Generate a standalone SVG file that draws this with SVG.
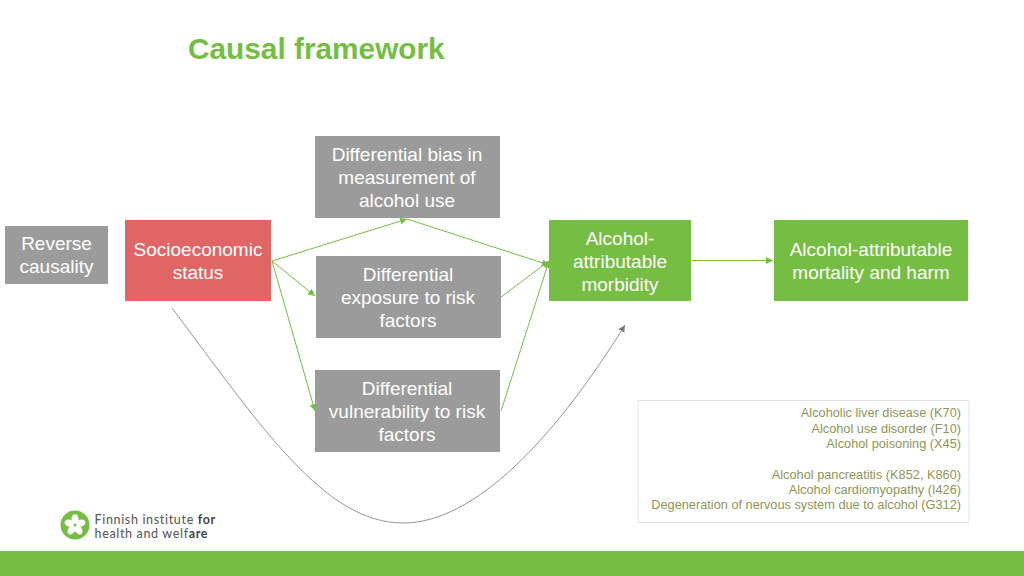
<svg xmlns="http://www.w3.org/2000/svg" width="1024" height="576" viewBox="0 0 1024 576">
<defs>
<style>
text{font-family:"Liberation Sans",Arial,sans-serif}
.t{font-size:19px;fill:#fff;text-anchor:middle}
.g{fill:#9b9b9b}
.gr{fill:#76bd43}
.c{fill:none;stroke:#76bd43;stroke-width:1}
.n{font-size:12.750px;fill:#8f9456;text-anchor:end}
.l{font-size:12.500px;letter-spacing:.65px;font-weight:500;fill:#5d5d5d;font-family:Lato,sans-serif}
.b{font-weight:700;fill:#444}
</style>
<marker id="ag" markerWidth="8" markerHeight="8" refX="7" refY="3.500" orient="auto" markerUnits="userSpaceOnUse"><path d="M0 0L7 3.500L0 7z" fill="#76bd43"/></marker>
<marker id="ak" markerWidth="8" markerHeight="8" refX="7" refY="3.500" orient="auto" markerUnits="userSpaceOnUse"><path d="M0 0L7 3.500L0 7z" fill="#7a7a7a"/></marker>
</defs>
<rect width="1024" height="576" fill="#fff"/>
<text x="188" y="59" font-size="29.800" font-weight="700" fill="#76bd43">Causal framework</text>
<g id="connectors">
<path class="c" marker-end="url(#ag)" d="M272 261L407 219"/>
<path class="c" marker-end="url(#ag)" d="M272 261L315 296"/>
<path class="c" marker-end="url(#ag)" d="M272 261L315 411"/>
<path class="c" marker-end="url(#ag)" d="M407 219L549 265"/>
<path class="c" marker-end="url(#ag)" d="M501 297L549 261"/>
<path class="c" marker-end="url(#ag)" d="M501 411L549 261"/>
<path class="c" marker-end="url(#ag)" d="M692 260.500L773 260.500"/>
<path fill="none" stroke="#7a7a7a" stroke-width="0.800" marker-end="url(#ak)" d="M172 308C262 428 325 523 403 523C475 523 555 438 625 325"/>
</g>
<g id="reverse"><rect class="g" x="5" y="226" width="103" height="58"/><text class="t" x="56.500" y="250">Reverse</text><text class="t" x="56.500" y="273">causality</text></g>
<g id="ses"><rect x="125" y="220" width="146" height="81" fill="#e06666"/><text class="t" x="198" y="256">Socioeconomic</text><text class="t" x="198" y="279">status</text></g>
<g id="bias"><rect class="g" x="315" y="136" width="185" height="82"/><text class="t" x="407" y="161">Differential bias in</text><text class="t" x="407" y="184">measurement of</text><text class="t" x="407" y="207">alcohol use</text></g>
<g id="exposure"><rect class="g" x="316" y="256" width="185" height="82"/><text class="t" x="408" y="281">Differential</text><text class="t" x="408" y="304">exposure to risk</text><text class="t" x="408" y="327">factors</text></g>
<g id="vulnerability"><rect class="g" x="315" y="370" width="185" height="82"/><text class="t" x="407" y="395">Differential</text><text class="t" x="407" y="418">vulnerability to risk</text><text class="t" x="407" y="441">factors</text></g>
<g id="morbidity"><rect class="gr" x="549" y="220" width="142" height="81"/><text class="t" x="620" y="245">Alcohol-</text><text class="t" x="620" y="268">attributable</text><text class="t" x="620" y="291">morbidity</text></g>
<g id="mortality"><rect class="gr" x="774" y="220" width="194" height="81"/><text class="t" x="871" y="256">Alcohol-attributable</text><text class="t" x="871" y="279">mortality and harm</text></g>
<g id="notes"><rect x="638" y="400.500" width="331" height="122" fill="#fff" stroke="#e4e4e4" stroke-width="1"/>
<text class="n" x="961" y="417">Alcoholic liver disease (K70)</text>
<text class="n" x="961" y="432.500">Alcohol use disorder (F10)</text>
<text class="n" x="961" y="448">Alcohol poisoning (X45)</text>
<text class="n" x="961" y="478.500">Alcohol pancreatitis (K852, K860)</text>
<text class="n" x="961" y="494">Alcohol cardiomyopathy (I426)</text>
<text class="n" x="961" y="509">Degeneration of nervous system due to alcohol (G312)</text></g>
<g id="logo"><circle cx="75" cy="525" r="14.500" fill="#76bd43"/>
<g fill="#fff"><ellipse cx="75" cy="519" rx="3.500" ry="4.800"/><ellipse cx="69.300" cy="523.200" rx="4.800" ry="3.500" transform="rotate(18 69.300 523.200)"/><ellipse cx="80.700" cy="523.200" rx="4.800" ry="3.500" transform="rotate(-18 80.700 523.200)"/><ellipse cx="71.500" cy="530" rx="3.500" ry="4.800" transform="rotate(36 71.500 530)"/><ellipse cx="78.500" cy="530" rx="3.500" ry="4.800" transform="rotate(-36 78.500 530)"/></g>
<text class="l" x="94.500" y="523.500">Finnish institute <tspan class="b">for</tspan></text>
<text class="l" x="94.500" y="537.500">health and welf<tspan class="b">are</tspan></text></g>
<rect class="gr" x="0" y="551" width="1024" height="25"/>
</svg>
